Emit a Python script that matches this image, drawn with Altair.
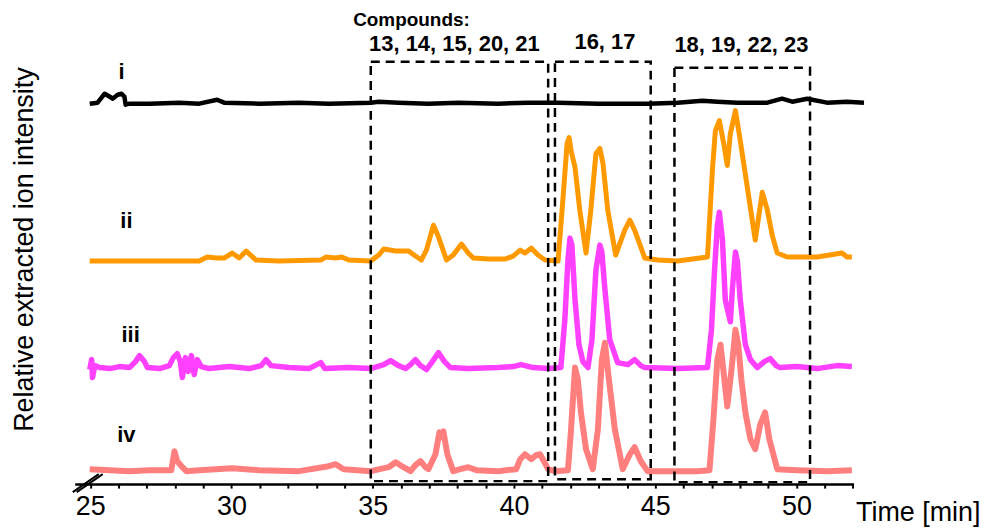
import altair as alt
import pandas as pd

FONT = "Liberation Sans"

# ---- trace i (black): time [min], relative intensity
t_i = [24.98, 25.26, 25.51, 25.69, 25.79, 25.97, 26.11, 26.21, 26.25, 26.39,
       27.10, 28.15, 28.86, 29.49, 29.74, 30.98, 32.39, 33.44, 34.93, 35.21,
       35.91, 36.97, 38.03, 39.44, 40.50, 41.56, 42.97, 44.73, 45.79, 46.67,
       47.20, 47.91, 48.97, 49.49, 49.85, 50.38, 51.08, 51.79, 52.39]
v_i = [-1, 0, 9, 6, 4, 8, 9, 6, -2, -1,
       -1, 0, -1, 3, 0, -1, 0, -1, 0, 1,
       0, -1, 0, -1, 0, 0, -1, -1, 0, 2,
       1, 0, 0, 4, 1, 4, 0, 1, 0]

# ---- trace ii (orange)
t_ii = [24.98, 27.10, 28.86, 29.14, 29.46, 29.74, 30.02, 30.27, 30.52, 30.87,
        31.68, 33.16, 33.34, 33.69, 33.90, 34.15, 34.93, 35.21, 35.39, 35.81,
        36.27, 36.51, 36.72, 36.90, 37.15, 37.33, 37.61, 37.85, 38.14, 38.38,
        38.56, 39.09, 39.69, 39.97, 40.22, 40.39, 40.61, 40.85, 41.10, 41.56,
        41.73, 41.88, 41.95, 42.02, 42.16, 42.33, 42.55, 42.72, 42.90, 43.04,
        43.15, 43.32, 43.60, 43.92, 44.10, 44.27, 44.63, 45.09, 45.79, 46.85,
        47.03, 47.13, 47.27, 47.45, 47.55, 47.66, 47.84, 48.01, 48.26, 48.54,
        48.79, 48.97, 49.14, 49.32, 49.67, 50.73, 51.61, 51.79, 51.96]
v_ii = [0, 0, 0, 4, 3, 3, 8, 3, 10, 1,
        0, 1, 4, 3, 4, 1, 0, 6, 12, 10,
        10, 5, 1, 11, 36, 24, 1, 6, 17, 8,
        3, 2, 2, 5, 11, 8, 13, 6, 1, 0,
        61, 118, 124, 111, 94, 51, 8, 51, 108, 113,
        98, 51, 6, 31, 41, 31, 3, 1, 0, 4,
        94, 131, 141, 114, 96, 128, 151, 121, 74, 21,
        69, 51, 26, 8, 4, 4, 8, 4, 4]

# ---- trace iii (magenta)
t_iii = [24.98, 25.05, 25.08, 25.16, 25.33, 25.69, 26.04, 26.39, 26.60, 26.74,
         26.92, 27.02, 27.45, 27.80, 27.94, 28.08, 28.19, 28.26, 28.37, 28.47,
         28.58, 28.68, 28.79, 28.93, 29.21, 29.92, 30.62, 31.05, 31.22, 31.40,
         32.03, 32.74, 33.16, 33.30, 34.15, 34.93, 35.39, 35.63, 35.91, 36.16,
         36.34, 36.51, 36.69, 36.90, 37.11, 37.33, 37.54, 37.75, 38.38, 39.44,
         39.97, 40.25, 40.68, 41.21, 41.66, 41.80, 41.91, 41.98, 42.05, 42.16,
         42.30, 42.44, 42.62, 42.76, 42.90, 43.04, 43.11, 43.22, 43.39, 43.67,
         44.03, 44.27, 44.49, 44.63, 45.79, 46.85, 46.99, 47.10, 47.20, 47.27,
         47.38, 47.48, 47.66, 47.73, 47.84, 47.91, 48.01, 48.19, 48.37, 48.61,
         48.86, 49.07, 49.28, 49.42, 50.02, 50.73, 51.43, 51.96]
v_iii = [-2, 8, -10, 2, 0, -1, 1, 0, 6, 12,
         6, 0, -1, 2, 10, 14, 6, -10, 10, -4,
         12, -7, 8, 1, -1, 1, -1, 2, 8, 2,
         0, -1, 5, -1, 0, -1, 3, 7, 2, -1,
         3, 8, 2, -2, 6, 15, 6, 0, -1, 0,
         1, 3, 0, -1, 0, 48, 108, 130, 123, 68,
         23, 6, 0, 28, 98, 123, 116, 78, 28, 5,
         3, 8, 2, 0, -1, 0, 38, 98, 143, 156,
         128, 68, 46, 78, 116, 106, 68, 23, 8, 0,
         6, 9, 2, 0, 1, -1, 2, 1]

# ---- trace iv (salmon)
t_iv = [24.98, 25.69, 26.39, 27.10, 27.87, 27.98, 28.08, 28.26, 28.40, 28.86,
        30.02, 30.98, 32.39, 33.44, 33.69, 33.97, 34.93, 35.56, 35.81, 36.09,
        36.34, 36.51, 36.69, 36.87, 36.97, 37.22, 37.36, 37.43, 37.50, 37.64,
        37.85, 38.10, 38.38, 38.67, 39.44, 40.08, 40.22, 40.39, 40.61, 40.78,
        40.92, 41.06, 41.21, 41.45, 41.91, 42.02, 42.16, 42.26, 42.37, 42.55,
        42.79, 42.97, 43.11, 43.22, 43.32, 43.57, 43.85, 44.10, 44.27, 44.49,
        44.73, 46.50, 46.92, 47.06, 47.20, 47.31, 47.41, 47.55, 47.70, 47.84,
        47.94, 48.05, 48.19, 48.37, 48.54, 48.72, 48.89, 49.04, 49.32, 50.02,
        51.08, 51.96]
v_iv = [1, 0, -1, 0, 0, 19, 9, 3, -1, 0,
        2, 0, -1, 4, 6, 1, -1, 3, 8, 3,
        -1, 5, 9, 3, 1, 16, 38, 33, 39, 16,
        -1, 1, 3, 0, -1, 1, 11, 16, 11, 15,
        16, 9, 1, -1, 0, 41, 103, 91, 58, 21,
        1, 41, 111, 128, 101, 41, 1, 16, 23, 9,
        -1, -1, 0, 51, 111, 126, 101, 64, 101, 141,
        126, 91, 58, 31, 21, 46, 58, 31, 1, 0,
        -1, 0]

series_names = ["i", "ii", "iii", "iv"]
series_t = {"i": t_i, "ii": t_ii, "iii": t_iii, "iv": t_iv}
series_v = {"i": v_i, "ii": v_ii, "iii": v_iii, "iv": v_iv}
offsets = {"i": 383, "ii": 224, "iii": 117, "iv": 14}
colors = {"i": "#000000", "ii": "#FF9900", "iii": "#FF40FF", "iv": "#FF7F7F"}
widths = {"i": 4.5, "ii": 5, "iii": 5.5, "iv": 6}

# series labels
lab_text = ["i", "ii", "iii", "iv"]
lab_t = [26.11, 26.28, 26.43, 26.28]
lab_v = [407, 257, 143, 42]

# compound groups (dashed boxes)
box_x1 = [34.93, 41.45, 45.68]
box_x2 = [41.21, 44.84, 50.48]
box_y1 = [3, 5, 2]
box_y2 = [424, 424, 418]
grp_text = ["13, 14, 15, 20, 21", "16, 17", "18, 19, 22, 23"]
grp_t = [37.89, 43.22, 48.05]
grp_v = [435, 437, 434]
head_text = ["Compounds:"]
head_t = [36.37]
head_v = [460]

# axis break marks
brk_x1 = [24.38, 24.52]
brk_x2 = [25.30, 25.44]
brk_y1 = [-8, -8]
brk_y2 = [10, 10]

X_DOMAIN = [24.45, 52.02]
Y_DOMAIN = [0, 477]
x_ticks = list(range(25, 53))

x_scale = alt.Scale(domain=X_DOMAIN, nice=False, zero=False)
y_scale = alt.Scale(domain=Y_DOMAIN, nice=False, zero=False)

x_axis = alt.Axis(values=x_ticks,
                  labelExpr="datum.value % 5 == 0 ? datum.value : ''",
                  tickSize=4, tickWidth=2, tickColor="black",
                  domainColor="black", domainWidth=2.5,
                  labelFontSize=27, labelFont=FONT, labelColor="black",
                  labelPadding=6, labelFlush=False, labelOverlap=False,
                  grid=False, title="Time [min]", titleFont=FONT,
                  titleFontSize=27, titleFontWeight="normal", titleColor="black",
                  titleX=784, titleY=37, titleAlign="left",
                  titleBaseline="alphabetic")
y_axis = alt.Axis(labels=False, ticks=False, domain=False, grid=False,
                  title="Relative extracted ion intensity", titleFont=FONT,
                  titleFontSize=27, titleFontWeight="normal", titleColor="black",
                  titleX=-50, titleY=241, titleAngle=270, titleAlign="center",
                  titleBaseline="middle")


def X(field):
    return alt.X(field, type="quantitative", scale=x_scale, axis=x_axis)


def Y(field):
    return alt.Y(field, type="quantitative", scale=y_scale, axis=y_axis)


layers = []
for s in series_names:
    df = pd.DataFrame({"t": series_t[s],
                       "v": [offsets[s] + v for v in series_v[s]]})
    layers.append(
        alt.Chart(df).mark_line(color=colors[s], strokeWidth=widths[s],
                                strokeCap="butt", strokeJoin="round")
        .encode(x=X("t"), y=Y("v"), order="t:Q")
    )

labels_df = pd.DataFrame({"t": lab_t, "v": lab_v, "label": lab_text})
layers.append(
    alt.Chart(labels_df).mark_text(font=FONT, fontSize=22, fontWeight="bold",
                                   align="center", baseline="alphabetic",
                                   color="black")
    .encode(x=X("t"), y=Y("v"), text="label:N")
)

grp_df = pd.DataFrame({"t": grp_t, "v": grp_v, "label": grp_text})
layers.append(
    alt.Chart(grp_df).mark_text(font=FONT, fontSize=22, fontWeight="bold",
                                align="center", baseline="alphabetic",
                                color="black")
    .encode(x=X("t"), y=Y("v"), text="label:N")
)

head_df = pd.DataFrame({"t": head_t, "v": head_v, "label": head_text})
layers.append(
    alt.Chart(head_df).mark_text(font=FONT, fontSize=19, fontWeight="bold",
                                 align="center", baseline="alphabetic",
                                 color="black")
    .encode(x=X("t"), y=Y("v"), text="label:N")
)

box_df = pd.DataFrame({"x1": box_x1, "x2": box_x2, "y1": box_y1, "y2": box_y2})
layers.append(
    alt.Chart(box_df).mark_rect(filled=False, stroke="black", strokeWidth=2.5,
                                strokeDash=[9, 6], fillOpacity=0)
    .encode(x=X("x1"), x2="x2:Q", y=Y("y1"), y2="y2:Q")
)

brk_df = pd.DataFrame({"x1": brk_x1, "x2": brk_x2, "y1": brk_y1, "y2": brk_y2})
layers.append(
    alt.Chart(brk_df).mark_rule(color="black", strokeWidth=2)
    .encode(x=X("x1"), x2="x2:Q", y=Y("y1"), y2="y2:Q")
)

chart = alt.layer(*layers).properties(
    width=782, height=477,
    padding={"left": 67, "right": 132, "top": 0, "bottom": 43},
    autosize=alt.AutoSizeParams(type="none"),
    background="white",
).configure_view(stroke=None)

chart.save("out.html", embed_options={"renderer": "svg", "actions": False})
